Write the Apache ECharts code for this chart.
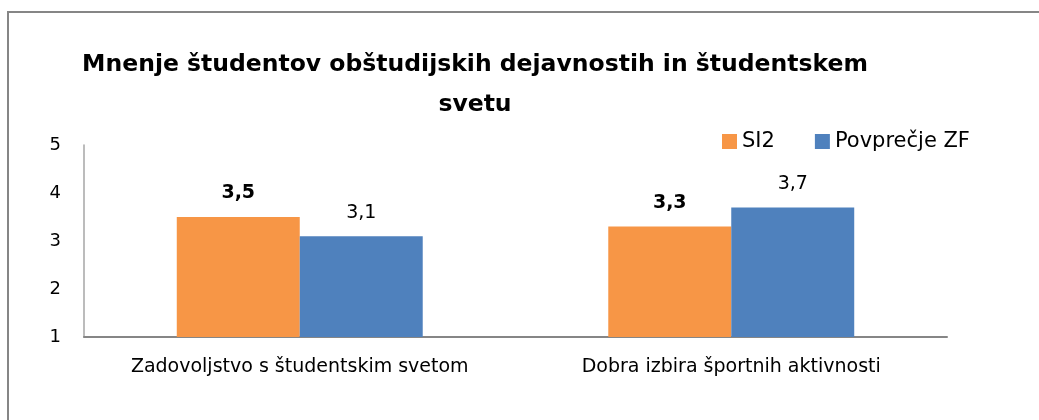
<!DOCTYPE html>
<html>
<head>
<meta charset="utf-8">
<script src="https://cdn.jsdelivr.net/npm/echarts@6/dist/echarts.min.js"></script>
<style>
  html, body { margin: 0; padding: 0; background: #fff; }
  #chart { width: 1039px; height: 420px; }
</style>
</head>
<body>
<div id="chart"></div>
<script>
// podatki
var categories = ['Zadovoljstvo s študentskim svetom', 'Dobra izbira športnih aktivnosti']
var si2 = [3.5, 3.3]
var povprecjeZF = [3.1, 3.7]
var yTicks = [1, 2, 3, 4, 5]

var font = '"DejaVu Sans", sans-serif'
var chart = echarts.init(document.getElementById('chart'))

function comma(p) {
  return String(p.value).replace('.', ',')
}

chart.setOption({
  backgroundColor: '#fff',
  textStyle: { fontFamily: font },
  graphic: [{
    // okvir grafa (desni in spodnji rob sta izven slike)
    type: 'polyline',
    shape: { points: [[8, 440], [8, 12], [1100, 12]] },
    style: { fill: 'none', stroke: '#868686', lineWidth: 2 },
    silent: true
  }],
  title: {
    text: 'Mnenje študentov obštudijskih dejavnostih in študentskem\nsvetu',
    left: 470,
    top: 40,
    textAlign: 'center',
    textStyle: {
      fontFamily: font,
      fontSize: 23.5,
      fontWeight: 'bold',
      color: '#000',
      lineHeight: 40
    }
  },
  legend: {
    data: ['SI2', 'Povprečje ZF'],
    left: 717,
    top: 126,
    itemWidth: 15,
    itemHeight: 15,
    itemGap: 40,
    icon: 'rect',
    textStyle: { fontFamily: font, fontSize: 21, color: '#000' }
  },
  grid: {
    left: 84,
    right: 92,
    top: 145,
    bottom: 83,
    containLabel: false
  },
  xAxis: {
    type: 'category',
    data: categories,
    axisLine: { lineStyle: { color: '#868686', width: 2 } },
    axisTick: { show: false },
    axisLabel: { interval: 0, margin: 21, fontSize: 19, color: '#000', fontFamily: font }
  },
  yAxis: {
    type: 'value',
    min: yTicks[0],
    max: yTicks[yTicks.length - 1],
    interval: 1,
    axisLine: { show: true, lineStyle: { color: '#a6a6a6', width: 1.5 } },
    axisTick: { show: false },
    splitLine: { show: false }, // bez mreže
    axisLabel: { margin: 23, fontSize: 18, color: '#000', fontFamily: font }
  },
  series: [
    {
      name: 'SI2',
      type: 'bar',
      data: si2,
      barGap: '0%',
      barCategoryGap: '43%',
      itemStyle: { color: '#F79646' },
      label: {
        show: true,
        position: 'top',
        distance: 14,
        formatter: comma,
        fontSize: 19,
        fontWeight: 'bold',
        color: '#000',
        fontFamily: font
      }
    },
    {
      name: 'Povprečje ZF',
      type: 'bar',
      data: povprecjeZF,
      barGap: '0%',
      barCategoryGap: '43%',
      itemStyle: { color: '#4F81BD' },
      label: {
        show: true,
        position: 'top',
        distance: 14,
        formatter: comma,
        fontSize: 19,
        color: '#000',
        fontFamily: font
      }
    }
  ]
})
</script>
</body>
</html>
